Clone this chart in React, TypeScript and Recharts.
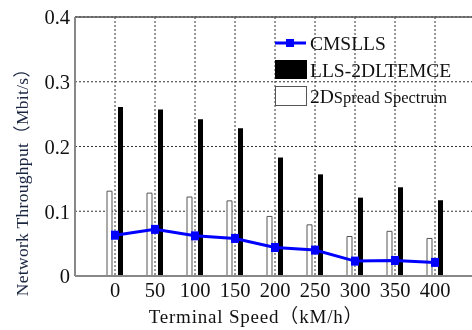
import {
  ComposedChart,
  Bar,
  Line,
  XAxis,
  YAxis,
  CartesianGrid,
  ReferenceLine,
  Legend,
} from "recharts";

const SPEEDS = ["0", "50", "100", "150", "200", "250", "300", "350", "400"];
const CMSLLS = [0.063, 0.072, 0.062, 0.058, 0.044, 0.04, 0.023, 0.024, 0.021];
const LLS_2DLTEMCE = [0.261, 0.257, 0.242, 0.228, 0.183, 0.157, 0.121, 0.137, 0.117];
const SPREAD_2D = [0.131, 0.128, 0.122, 0.116, 0.092, 0.079, 0.061, 0.069, 0.058];
const Y_TICKS = [0, 0.1, 0.2, 0.3, 0.4];

const data = SPEEDS.map((speed, i) => ({
  speed,
  cmslls: CMSLLS[i],
  lls: LLS_2DLTEMCE[i],
  spread: SPREAD_2D[i],
}));

const FONT = '"Liberation Serif", "Times New Roman", "Noto Sans CJK SC", serif';
const BLUE = "#0000ff";

const SquareDot = (props: any) => {
  const { cx, cy, index } = props;
  if (cx == null || cy == null) return null;
  return <rect key={index} x={cx - 4} y={cy - 4.5} width={8} height={9} fill={BLUE} />;
};

const LegendBox = () => (
  <svg width={480} height={120} style={{ fontFamily: FONT, display: "block" }}>
    <line x1={275} y1={43} x2={306} y2={43} stroke={BLUE} strokeWidth={3} />
    <rect x={286} y={39} width={8} height={8} fill={BLUE} />
    <text x={310} y={50} fontSize={19.5} fill="#111">CMSLLS</text>
    <rect x={275} y={60} width={32} height={19} fill="#000" />
    <text x={310} y={77} fontSize={19.5} fill="#111">LLS-2DLTEMCE</text>
    <rect x={275.5} y={86.5} width={31} height={19} fill="#fff" stroke="#555" />
    <text x={310} y={103} fill="#111">
      <tspan fontSize={19.5}>2D</tspan>
      <tspan fontSize={16.5}>Spread Spectrum</tspan>
    </text>
  </svg>
);

export default function App() {
  return (
    <div style={{ position: "fixed", left: 0, top: 0, width: 472, height: 330, overflow: "hidden" }}>
      <ComposedChart
        width={480}
        height={330}
        data={data}
        margin={{ top: 17, right: 5, bottom: 0, left: 0 }}
        barSize={5}
        barGap={6}
        style={{ fontFamily: FONT }}
      >
        <CartesianGrid stroke="#333" strokeDasharray="2 2" />
        <XAxis
          dataKey="speed"
          padding={{ left: 20, right: 20 }}
          height={54}
          tickLine={false}
          tickSize={0}
          tickMargin={6}
          axisLine={{ stroke: "#888", strokeWidth: 2 }}
          tick={{ fill: "#111", fontSize: 20.5, fontFamily: FONT }}
          label={{
            content: () => (
              <text
                x={256}
                y={323}
                textAnchor="middle"
                fontSize={19}
                letterSpacing={0.8}
                fill="#111"
                fontFamily={FONT}
              >
                Terminal Speed（kM/h）
              </text>
            ),
          }}
        />
        <YAxis
          domain={[0, 0.4]}
          ticks={Y_TICKS}
          width={75}
          tickLine={false}
          tickSize={0}
          tickMargin={5}
          axisLine={{ stroke: "#888", strokeWidth: 2 }}
          tick={{ fill: "#111", fontSize: 20.5, fontFamily: FONT }}
          label={{
            content: () => (
              <text
                x={22}
                y={178}
                transform="rotate(-90 22 178)"
                textAnchor="middle"
                dominantBaseline="central"
                fontSize={17.5}
                letterSpacing={0.3}
                fill="#1a2540"
                fontFamily={FONT}
              >
                Network Throughput（Mbit/s）
              </text>
            ),
          }}
        />
        <ReferenceLine y={0.4} stroke="#555" strokeWidth={1.5} />
        <Bar dataKey="spread" name="2D Spread Spectrum" fill="#fff" stroke="#555" strokeWidth={1} isAnimationActive={false} />
        <Bar dataKey="lls" name="LLS-2DLTEMCE" fill="#000" isAnimationActive={false} />
        <Line
          dataKey="cmslls"
          name="CMSLLS"
          stroke={BLUE}
          strokeWidth={3}
          dot={SquareDot}
          activeDot={false}
          isAnimationActive={false}
        />
        <Legend
          layout="vertical"
          align="center"
          verticalAlign="middle"
          content={() => <LegendBox />}
          wrapperStyle={{ position: "absolute", left: 0, top: 0, width: 480, height: 120 }}
        />
      </ComposedChart>
    </div>
  );
}
